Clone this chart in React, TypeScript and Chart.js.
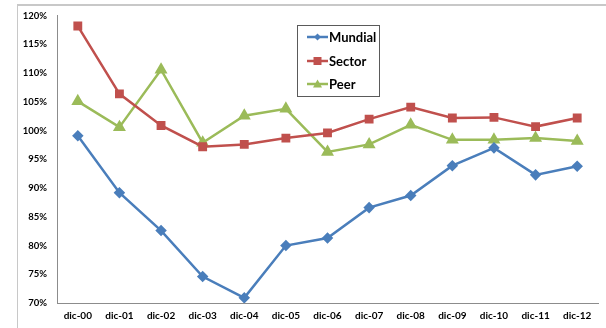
import React, { useEffect, useRef } from "react";
import { Chart, registerables } from "chart.js";

Chart.register(...registerables);

const categories = ["dic-00", "dic-01", "dic-02", "dic-03", "dic-04", "dic-05", "dic-06", "dic-07", "dic-08", "dic-09", "dic-10", "dic-11", "dic-12"];
const mundial = [99.1, 89.2, 82.6, 74.6, 70.9, 80.0, 81.3, 86.6, 88.7, 93.9, 97.0, 92.3, 93.8];
const sector = [118.2, 106.4, 100.9, 97.2, 97.6, 98.7, 99.6, 102.0, 104.1, 102.2, 102.3, 100.7, 102.2];
const peer = [105.1, 100.6, 110.6, 97.9, 102.6, 103.8, 96.3, 97.6, 101.0, 98.4, 98.4, 98.7, 98.2];
const seriesNames = ["Mundial", "Sector", "Peer"];
const yMin = 70;
const yMax = 120;
const yStep = 5;

const FONT = "Lato, 'Liberation Sans', sans-serif";

// Boxed legend drawn inside the plot area, upper middle
const boxLegend = {
  id: "boxLegend",
  afterDraw(chart: any) {
    const ctx = chart.ctx as CanvasRenderingContext2D;
    const x = 297.5, y = 25.5, w = 82, h = 71;
    ctx.save();
    ctx.fillStyle = "#ffffff";
    ctx.fillRect(x, y, w, h);
    ctx.strokeStyle = "#5a5a5a";
    ctx.lineWidth = 1;
    ctx.strokeRect(x, y, w, h);
    const rows = [37, 61, 84];
    chart.data.datasets.forEach((ds: any, i: number) => {
      const cy = rows[i];
      ctx.strokeStyle = ds.borderColor;
      ctx.lineWidth = 2.5;
      ctx.beginPath();
      ctx.moveTo(307, cy);
      ctx.lineTo(328, cy);
      ctx.stroke();
      ctx.fillStyle = ds.backgroundColor;
      const cx = 317.5;
      ctx.beginPath();
      if (ds.pointStyle === "rect") {
        ctx.rect(cx - 4, cy - 4, 8, 8);
      } else if (ds.pointStyle === "rectRot") {
        ctx.moveTo(cx, cy - 3.5);
        ctx.lineTo(cx + 3.5, cy);
        ctx.lineTo(cx, cy + 3.5);
        ctx.lineTo(cx - 3.5, cy);
        ctx.closePath();
      } else {
        ctx.moveTo(cx, cy - 4.5);
        ctx.lineTo(cx + 4.5, cy + 3.5);
        ctx.lineTo(cx - 4.5, cy + 3.5);
        ctx.closePath();
      }
      ctx.fill();
      ctx.fillStyle = "#000000";
      ctx.font = `bold 13px ${FONT}`;
      ctx.textBaseline = "middle";
      ctx.textAlign = "left";
      ctx.fillText(ds.label, 329, cy + 0.5);
    });
    ctx.restore();
  },
};

export default function App() {
  const ref = useRef<HTMLCanvasElement>(null);

  useEffect(() => {
    if (!ref.current) return;
    const chart = new Chart(ref.current, {
      type: "line",
      data: {
        labels: categories,
        datasets: [
          {
            label: seriesNames[0],
            data: mundial,
            borderColor: "#4A7EBB",
            backgroundColor: "#4A7EBB",
            pointStyle: "rectRot",
            pointRadius: 4,
            borderWidth: 2.5,
            tension: 0,
          },
          {
            label: seriesNames[1],
            data: sector,
            borderColor: "#C0504D",
            backgroundColor: "#C0504D",
            pointStyle: "rect",
            pointRadius: 4.5,
            borderWidth: 2.5,
            tension: 0,
          },
          {
            label: seriesNames[2],
            data: peer,
            borderColor: "#9BBB59",
            backgroundColor: "#9BBB59",
            pointStyle: "triangle",
            pointRadius: 5,
            borderWidth: 2.5,
            tension: 0,
          },
        ],
      },
      options: {
        responsive: false,
        animation: false,
        layout: { padding: { left: 0, top: 14, right: 8, bottom: 0 } },
        plugins: {
          legend: { display: false },
          tooltip: { enabled: false },
        },
        scales: {
          x: {
            offset: true,
            grid: { display: false, drawTicks: false, offset: true },
            border: { display: true, color: "#8c8c8c", width: 1 },
            ticks: {
              color: "#000",
              padding: 7,
              maxRotation: 0,
              font: { family: FONT, size: 10, weight: "bold" },
            },
            afterFit(scale: any) {
              scale.height = 25;
            },
          },
          y: {
            min: yMin,
            max: yMax,
            grid: { display: false, drawTicks: false },
            border: { display: true, color: "#8c8c8c", width: 1 },
            ticks: {
              stepSize: yStep,
              color: "#000",
              padding: 10,
              font: { family: FONT, size: 9.5, weight: "bold" },
              callback: (v: any) => `${v}%`,
            },
            afterFit(scale: any) {
              scale.width = 57;
            },
          },
        },
      },
      plugins: [boxLegend],
    });
    return () => chart.destroy();
  }, []);

  return (
    <div style={{ position: "fixed", left: 0, top: 0, width: 606, height: 328, background: "#fff", overflow: "hidden" }}>
      <div
        style={{
          position: "absolute",
          left: 17,
          top: 4,
          width: 700,
          height: 400,
          borderLeft: "1px solid #c8c8c8",
          borderTop: "2px solid #c8c8c8",
        }}
      />
      <canvas ref={ref} width={606} height={328} style={{ position: "absolute", left: 0, top: 0 }} />
    </div>
  );
}
